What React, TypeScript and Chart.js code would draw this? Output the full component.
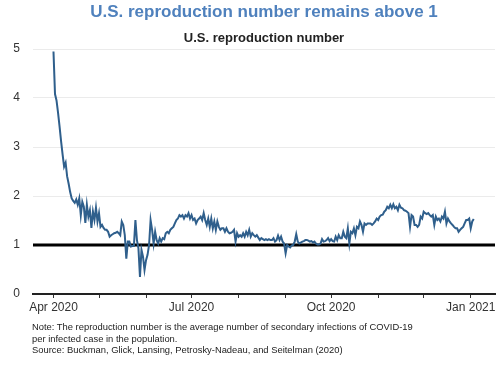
import React, { useEffect, useRef } from "react";
import { Chart, registerables } from "chart.js";

Chart.register(...registerables);

// Daily U.S. reproduction number, starting 2020-04-01
const startDate = "2020-04-01";
const rValues = [
  4.95, 4.08, 3.95, 3.7, 3.42, 3.12, 2.85, 2.6, 2.68, 2.4,
  2.25, 2.08, 1.95, 1.9, 1.86, 1.93, 1.82, 1.95, 1.61, 1.88,
  1.78, 1.45, 1.82, 1.58, 1.71, 1.35, 1.68, 1.51, 1.76, 1.48,
  1.65, 1.37, 1.41, 1.35, 1.31, 1.31, 1.27, 1.17, 1.2, 1.22,
  1.24, 1.25, 1.27, 1.24, 1.2, 1.48, 1.41, 1.2, 0.72, 1.07,
  1.07, 0.97, 0.98, 0.98, 1.51, 1.1, 0.93, 0.35, 0.9, 0.76,
  0.49, 0.69, 0.8, 1.0, 1.51, 1.31, 1.03, 1.27, 1.1, 1.03,
  1.14, 1.07, 1.14, 1.12, 1.24, 1.27, 1.24, 1.31, 1.34, 1.37,
  1.44, 1.51, 1.54, 1.61, 1.58, 1.61, 1.54, 1.61, 1.58, 1.65,
  1.54, 1.61, 1.51, 1.54, 1.44, 1.51, 1.54, 1.58, 1.51, 1.65,
  1.51, 1.41, 1.54, 1.37, 1.54, 1.34, 1.48, 1.31, 1.48, 1.37,
  1.31, 1.34, 1.34, 1.27, 1.34, 1.27, 1.24, 1.25, 1.27, 1.31,
  1.07, 1.24, 1.17, 1.2, 1.17, 1.24, 1.17, 1.27, 1.2, 1.31,
  1.17, 1.24, 1.2, 1.17, 1.2, 1.15, 1.1, 1.14, 1.12, 1.1,
  1.12, 1.1, 1.12, 1.1, 1.1, 1.14, 1.07, 1.1, 1.19, 1.1,
  1.17, 1.07, 1.03, 0.83, 1.0, 0.97, 0.95, 0.99, 1.0, 1.07,
  1.22, 1.07, 1.03, 1.05, 1.07, 1.08, 1.1, 1.1, 1.09, 1.07,
  1.08, 1.05, 1.07, 1.03, 1.01, 1.01, 1.03, 1.12, 1.07, 1.08,
  1.1, 1.14, 1.08, 1.12, 1.08, 1.07, 1.17, 1.1, 1.2, 1.14,
  1.14, 1.27, 1.17, 1.14, 1.34, 1.03, 1.27, 1.24, 1.34, 1.2,
  1.37, 1.34, 1.48, 1.41, 1.27, 1.44, 1.41, 1.44, 1.44, 1.44,
  1.41, 1.44, 1.48, 1.54, 1.51, 1.58, 1.61, 1.62, 1.68, 1.71,
  1.78, 1.75, 1.82, 1.75, 1.83, 1.75, 1.78, 1.71, 1.82, 1.76,
  1.75, 1.71, 1.7, 1.68, 1.65, 1.37, 1.61, 1.58, 1.41, 1.41,
  1.37, 1.41, 1.58, 1.54, 1.68, 1.65, 1.63, 1.65, 1.61, 1.58,
  1.61, 1.41, 1.58, 1.51, 1.54, 1.48, 1.58, 1.54, 1.68, 1.44,
  1.54, 1.48, 1.44, 1.41, 1.37, 1.34, 1.34, 1.27, 1.31, 1.34,
  1.37, 1.44, 1.51, 1.51, 1.54, 1.34, 1.48, 1.53,
];

const monthTickDates = [
  "2020-04-01", "2020-05-01", "2020-06-01", "2020-07-01", "2020-08-01",
  "2020-09-01", "2020-10-01", "2020-11-01", "2020-12-01", "2021-01-01",
];
const monthTickLabels = [
  "Apr 2020", "", "", "Jul 2020", "", "", "Oct 2020", "", "", "Jan 2021",
];
const xRangeDays = [-13.5, 291];
const yTicks = [0, 1, 2, 3, 4, 5];
const thresholdLevel = 1;

const titleText = "U.S. reproduction number remains above 1";
const subtitleText = "U.S. reproduction number";
const noteLines = [
  "Note: The reproduction number is the average number of secondary infections of COVID-19",
  "per infected case in the population.",
  "Source: Buckman, Glick, Lansing, Petrosky-Nadeau, and Seitelman (2020)",
];

const DAY = 86400000;
const dayOf = (d: string) =>
  Math.round((Date.parse(d + "T00:00:00Z") - Date.parse(startDate + "T00:00:00Z")) / DAY);

const FONT = "'Liberation Sans', Arial, sans-serif";

export default function App() {
  const ref = useRef<HTMLCanvasElement | null>(null);

  useEffect(() => {
    if (!ref.current) return;
    const linePts = rValues.map((v, i) => ({ x: i, y: v }));
    const thrPts = [
      { x: xRangeDays[0], y: thresholdLevel },
      { x: xRangeDays[1], y: thresholdLevel },
    ];
    const chart = new Chart(ref.current, {
      type: "line",
      data: {
        datasets: [
          {
            label: "R",
            data: linePts,
            borderColor: "#2f5f8c",
            borderWidth: 2,
            pointRadius: 0,
            tension: 0,
            order: 1,
          },
          {
            label: "threshold",
            data: thrPts,
            borderColor: "#000000",
            borderWidth: 3,
            pointRadius: 0,
            order: 2,
          },
        ],
      },
      options: {
        animation: false,
        responsive: false,
        devicePixelRatio: 1,
        layout: { padding: { top: 49, bottom: 51, left: 0, right: 5 } },
        plugins: {
          legend: { display: false },
          tooltip: { enabled: false },
          title: { display: false },
        },
        scales: {
          x: {
            type: "linear",
            min: xRangeDays[0],
            max: xRangeDays[1],
            afterBuildTicks: (scale: any) => {
              scale.ticks = monthTickDates.map((d) => ({ value: dayOf(d) }));
            },
            afterFit: (scale: any) => {
              scale.height = 20;
            },
            ticks: {
              autoSkip: false,
              maxRotation: 0,
              minRotation: 0,
              padding: 2,
              color: "#333333",
              font: { family: FONT, size: 12 },
              callback: (_v: any, i: number) => monthTickLabels[i],
            },
            grid: {
              display: true,
              drawOnChartArea: false,
              drawTicks: true,
              tickLength: 4,
              color: "#333333",
              lineWidth: 1,
            },
            border: { display: true, color: "#222222", width: 2 },
          },
          y: {
            type: "linear",
            min: yTicks[0],
            max: yTicks[yTicks.length - 1],
            afterBuildTicks: (scale: any) => {
              scale.ticks = yTicks.map((v) => ({ value: v }));
            },
            afterFit: (scale: any) => {
              scale.width = 33;
            },
            ticks: {
              padding: 13,
              color: "#333333",
              font: { family: FONT, size: 12 },
              callback: (v: any) => String(v),
            },
            grid: {
              drawTicks: false,
              color: (ctx: any) =>
                ctx.tick && ctx.tick.value === 0 ? "rgba(0,0,0,0)" : "#ebebeb",
              lineWidth: 1,
            },
            border: { display: false },
          },
        },
      },
    });
    return () => chart.destroy();
  }, []);

  return (
    <div
      style={{
        position: "fixed",
        left: 0,
        top: 0,
        width: 500,
        height: 365,
        background: "#ffffff",
        overflow: "hidden",
        fontFamily: FONT,
      }}
    >
      <canvas
        ref={ref}
        width={500}
        height={365}
        style={{ position: "absolute", left: 0, top: 0, width: 500, height: 365 }}
      />
      <div
        style={{
          position: "absolute",
          left: 33,
          width: 462,
          top: 2,
          textAlign: "center",
          fontSize: 17,
          lineHeight: "20px",
          fontWeight: "bold",
          color: "#4f81bd",
          whiteSpace: "nowrap",
        }}
      >
        {titleText}
      </div>
      <div
        style={{
          position: "absolute",
          left: 33,
          width: 462,
          top: 30,
          textAlign: "center",
          fontSize: 13,
          lineHeight: "16px",
          fontWeight: "bold",
          color: "#222222",
          whiteSpace: "nowrap",
        }}
      >
        {subtitleText}
      </div>
      <div
        style={{
          position: "absolute",
          left: 32,
          top: 321,
          fontSize: 9.4,
          lineHeight: "11.5px",
          color: "#222222",
          whiteSpace: "nowrap",
        }}
      >
        {noteLines.map((l, i) => (
          <div key={i}>{l}</div>
        ))}
      </div>
    </div>
  );
}
